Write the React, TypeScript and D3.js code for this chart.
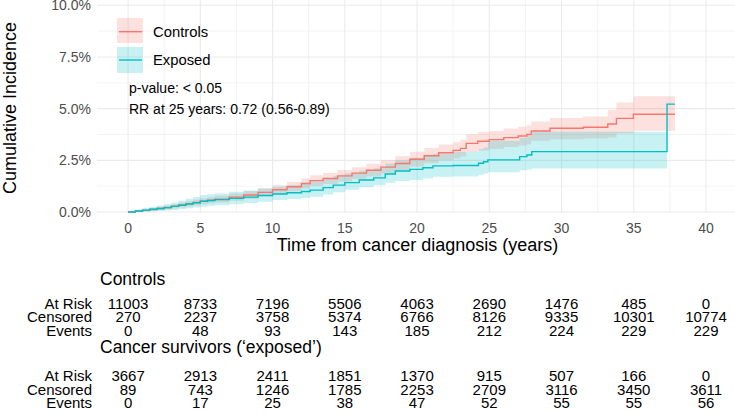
import React from "react";
import * as d3 from "d3";

// cumulative incidence (%)
const ctlTime = [0, 0.5, 1, 1.5, 2, 2.5, 3, 3.5, 4, 4.5, 5, 5.5, 6, 7, 8, 9, 10, 11, 12, 12.6, 13.5, 14.5, 15.5, 16.5, 17.5, 18.5, 19.5, 20.5, 21.5, 22.5, 23.0, 23.4, 24.2, 25.0, 26.0, 27.0, 27.6, 27.9, 29.2, 31.5, 33.2, 33.8, 34.97, 37.85];
const ctlEst = [0, 0.04, 0.08, 0.12, 0.17, 0.22, 0.28, 0.34, 0.4, 0.46, 0.52, 0.57, 0.62, 0.72, 0.82, 0.95, 1.08, 1.22, 1.38, 1.52, 1.62, 1.75, 1.88, 2.02, 2.17, 2.35, 2.55, 2.72, 2.87, 2.98, 3.08, 3.32, 3.42, 3.5, 3.6, 3.68, 3.75, 3.92, 4.05, 4.1, 4.26, 4.53, 4.73, 4.73];
const ctlLow = [0, 0.01, 0.03, 0.06, 0.1, 0.13, 0.17, 0.22, 0.27, 0.32, 0.37, 0.42, 0.46, 0.55, 0.64, 0.76, 0.88, 1.0, 1.14, 1.26, 1.36, 1.48, 1.6, 1.72, 1.86, 2.02, 2.2, 2.36, 2.5, 2.6, 2.68, 2.9, 2.98, 3.05, 3.14, 3.22, 3.28, 3.45, 3.52, 3.55, 3.6, 3.8, 3.93, 3.93];
const ctlHigh = [0, 0.07, 0.13, 0.19, 0.25, 0.31, 0.38, 0.46, 0.53, 0.6, 0.67, 0.73, 0.79, 0.9, 1.01, 1.15, 1.3, 1.45, 1.62, 1.78, 1.89, 2.03, 2.17, 2.33, 2.5, 2.7, 2.92, 3.1, 3.26, 3.38, 3.5, 3.76, 3.86, 3.92, 4.04, 4.13, 4.2, 4.38, 4.55, 4.62, 4.93, 5.3, 5.6, 5.6];

const expTime = [0, 0.5, 1, 1.5, 2, 2.5, 3, 3.5, 4, 4.5, 5, 5.5, 6, 7, 8, 9, 10, 11, 12, 12.6, 13.5, 14.2, 15, 16, 17, 17.8, 18.5, 19.5, 20.4, 21.1, 22.5, 24.25, 24.6, 24.9, 27.1, 27.6, 27.94, 37.3, 37.85];
const expEst = [0, 0.05, 0.09, 0.13, 0.17, 0.21, 0.27, 0.33, 0.39, 0.45, 0.52, 0.56, 0.6, 0.66, 0.72, 0.8, 0.87, 0.93, 0.99, 1.06, 1.18, 1.3, 1.42, 1.55, 1.65, 1.84, 1.98, 2.06, 2.14, 2.23, 2.25, 2.36, 2.43, 2.52, 2.68, 2.76, 2.92, 5.22, 5.22];
const expLow = [0, 0.0, 0.01, 0.03, 0.05, 0.07, 0.1, 0.14, 0.18, 0.22, 0.26, 0.3, 0.33, 0.38, 0.43, 0.5, 0.58, 0.63, 0.68, 0.74, 0.85, 0.96, 1.08, 1.2, 1.3, 1.42, 1.5, 1.55, 1.62, 1.7, 1.72, 1.8, 1.86, 1.92, 2.02, 2.06, 2.11, 2.11, null];
const expHigh = [0, 0.12, 0.2, 0.26, 0.32, 0.38, 0.46, 0.55, 0.64, 0.73, 0.82, 0.86, 0.9, 0.98, 1.04, 1.14, 1.22, 1.3, 1.4, 1.48, 1.62, 1.74, 1.87, 2.0, 2.12, 2.35, 2.5, 2.62, 2.72, 2.82, 2.92, 3.05, 3.12, 3.45, 3.58, 3.66, 3.88, 3.88, null];

// number at risk table
const riskTimes = [0, 5, 10, 15, 20, 25, 30, 35, 40];
const ctlAtRisk = [11003, 8733, 7196, 5506, 4063, 2690, 1476, 485, 0];
const ctlCensored = [270, 2237, 3758, 5374, 6766, 8126, 9335, 10301, 10774];
const ctlEvents = [0, 48, 93, 143, 185, 212, 224, 229, 229];
const expAtRisk = [3667, 2913, 2411, 1851, 1370, 915, 507, 166, 0];
const expCensored = [89, 743, 1246, 1785, 2253, 2709, 3116, 3450, 3611];
const expEvents = [0, 17, 25, 38, 47, 52, 55, 55, 56];

const xTicks = [0, 5, 10, 15, 20, 25, 30, 35, 40];
const yTicks = [0, 2.5, 5, 7.5, 10];
const xMinor = [2.5, 7.5, 12.5, 17.5, 22.5, 27.5, 32.5, 37.5];
const yMinor = [1.25, 3.75, 6.25, 8.75];

const RED = "#F8766D";
const TEAL = "#00BFC4";
const FONT = "'Liberation Sans', Arial, Helvetica, sans-serif";

type Pt = { t: number; e: number; lo: number | null; hi: number | null };

const zip = (t: number[], e: number[], lo: (number | null)[], hi: (number | null)[]): Pt[] =>
  t.map((v, i) => ({ t: v, e: e[i], lo: lo[i], hi: hi[i] }));

export default function App() {
  const width = 735;
  const height = 413;
  const panel = { left: 97, right: 740, top: -5, bottom: 212 };

  const x = d3.scaleLinear().domain([-2.15, 42.35]).range([panel.left, panel.right]);
  const y = d3.scaleLinear().domain([0, 10]).range([212, 5.3]);

  const ctl = zip(ctlTime, ctlEst, ctlLow, ctlHigh);
  const exp = zip(expTime, expEst, expLow, expHigh);

  const line = d3
    .line<Pt>()
    .x((d) => x(d.t))
    .y((d) => y(d.e))
    .curve(d3.curveStepAfter);

  const area = d3
    .area<Pt>()
    .defined((d) => d.lo != null && d.hi != null)
    .x((d) => x(d.t))
    .y0((d) => y(d.lo as number))
    .y1((d) => y(d.hi as number))
    .curve(d3.curveStepAfter);

  const fmt = (v: number) => d3.format(".1f")(v) + "%";

  const tableRow = (label: string, vals: number[], yy: number) => (
    <g key={label + yy}>
      <text x={92} y={yy} textAnchor="end">{label}</text>
      {vals.map((v, i) => (
        <text key={i} x={x(riskTimes[i])} y={yy} textAnchor="middle">{v}</text>
      ))}
    </g>
  );

  return (
    <svg width={width} height={height} style={{ position: "absolute", left: 0, top: 0 }} fontFamily={FONT}>
      {/* grid */}
      <g>
        {yMinor.map((v) => (
          <line key={"ym" + v} x1={panel.left} x2={panel.right} y1={y(v)} y2={y(v)} stroke="#EBEBEB" strokeWidth={0.6} />
        ))}
        {xMinor.map((v) => (
          <line key={"xm" + v} x1={x(v)} x2={x(v)} y1={panel.top} y2={panel.bottom} stroke="#EBEBEB" strokeWidth={0.6} />
        ))}
        {yTicks.map((v) => (
          <line key={"y" + v} x1={panel.left} x2={panel.right} y1={y(v)} y2={y(v)} stroke="#EBEBEB" strokeWidth={1.1} />
        ))}
        {xTicks.map((v) => (
          <line key={"x" + v} x1={x(v)} x2={x(v)} y1={panel.top} y2={panel.bottom} stroke="#EBEBEB" strokeWidth={1.1} />
        ))}
      </g>

      {/* ribbons and curves */}
      <path d={area(ctl) || ""} fill={RED} fillOpacity={0.22} />
      <path d={area(exp) || ""} fill={TEAL} fillOpacity={0.22} />
      <path d={line(ctl) || ""} fill="none" stroke={RED} strokeWidth={1.4} />
      <path d={line(exp) || ""} fill="none" stroke={TEAL} strokeWidth={1.4} />

      {/* axes labels */}
      {yTicks.map((v) => (
        <text key={"yl" + v} x={91} y={y(v)} dy="0.36em" textAnchor="end" fontSize={14} fill="#4D4D4D">{fmt(v)}</text>
      ))}
      {xTicks.map((v) => (
        <text key={"xl" + v} x={x(v)} y={233} textAnchor="middle" fontSize={14} fill="#4D4D4D">{v}</text>
      ))}
      <text x={417.5} y={251} textAnchor="middle" fontSize={18}>Time from cancer diagnosis (years)</text>
      <text transform="translate(15.5,108) rotate(-90)" textAnchor="middle" fontSize={18}>Cumulative Incidence</text>

      {/* legend */}
      <rect x={117} y={18} width={26} height={25} fill={RED} fillOpacity={0.22} />
      <line x1={119} x2={142} y1={31.7} y2={31.7} stroke={RED} strokeWidth={1.4} />
      <rect x={117} y={47} width={26} height={26} fill={TEAL} fillOpacity={0.22} />
      <line x1={119} x2={142} y1={60} y2={60} stroke={TEAL} strokeWidth={1.4} />
      <text x={153} y={36.7} fontSize={14.8}>Controls</text>
      <text x={153} y={65} fontSize={14.8}>Exposed</text>

      <text x={129} y={93} fontSize={14}>p-value: &lt; 0.05</text>
      <text x={129} y={113.5} fontSize={14}>RR at 25 years: 0.72 (0.56-0.89)</text>

      {/* risk table */}
      <text x={100} y={285} fontSize={17.5}>Controls</text>
      <g fontSize={15}>
        {tableRow("At Risk", ctlAtRisk, 308.5)}
        {tableRow("Censored", ctlCensored, 322)}
        {tableRow("Events", ctlEvents, 335.5)}
      </g>
      <text x={100} y={352.5} fontSize={17.5}>Cancer survivors (‘exposed’)</text>
      <g fontSize={15}>
        {tableRow("At Risk", expAtRisk, 381)}
        {tableRow("Censored", expCensored, 394.5)}
        {tableRow("Events", expEvents, 408)}
      </g>
    </svg>
  );
}
